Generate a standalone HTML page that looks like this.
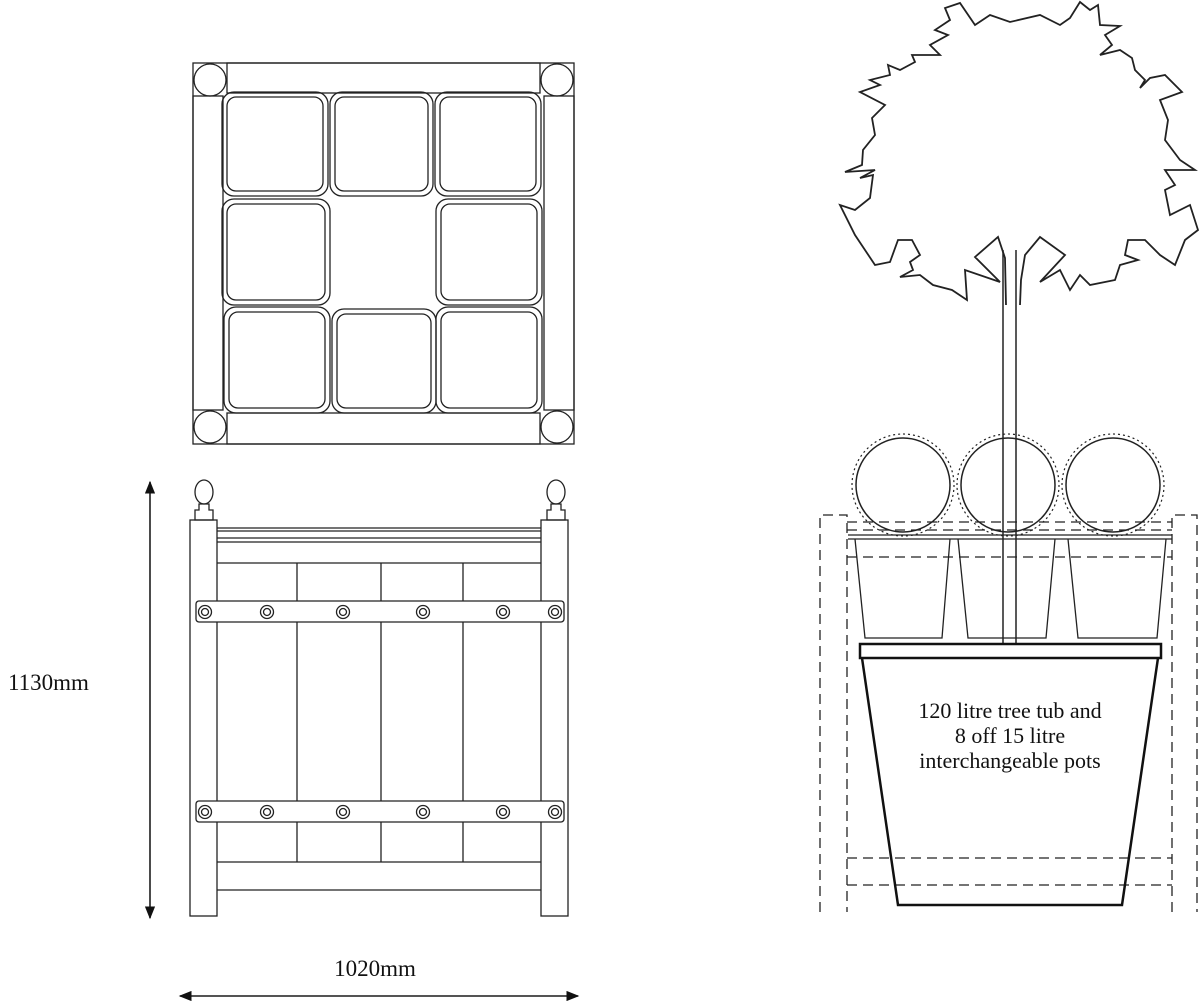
<!DOCTYPE html>
<html><head><meta charset="utf-8"><style>
html,body{margin:0;padding:0;background:#fff;}
svg{display:block;}
text{font-family:"Liberation Serif",serif;fill:#111;}
</style></head><body>
<svg width="1200" height="1001" viewBox="0 0 1200 1001" xmlns="http://www.w3.org/2000/svg">
<defs>
<marker id="ar" markerWidth="10" markerHeight="8" refX="9" refY="4" orient="auto"><path d="M0,0 L10,4 L0,8 z" fill="#111"/></marker>
</defs>
<g fill="none" stroke="#222" stroke-width="1.3">
<!-- TOP VIEW -->
<rect x="193" y="63" width="381" height="381"/>
<rect x="227" y="63" width="313" height="30"/>
<rect x="227" y="413" width="313" height="31"/>
<rect x="193" y="96" width="30" height="314"/>
<rect x="544" y="96" width="30" height="314"/>
<circle cx="210" cy="80" r="16"/><circle cx="557" cy="80" r="16"/>
<circle cx="210" cy="427" r="16"/><circle cx="557" cy="427" r="16"/>
<g>
<rect x="222" y="92" width="106" height="104" rx="12"/><rect x="227" y="97" width="96" height="94" rx="9"/>
<rect x="330" y="92" width="103" height="104" rx="12"/><rect x="335" y="97" width="93" height="94" rx="9"/>
<rect x="435" y="92" width="106" height="104" rx="12"/><rect x="440" y="97" width="96" height="94" rx="9"/>
<rect x="222" y="199" width="108" height="106" rx="12"/><rect x="227" y="204" width="98" height="96" rx="9"/>
<rect x="436" y="199" width="106" height="106" rx="12"/><rect x="441" y="204" width="96" height="96" rx="9"/>
<rect x="224" y="307" width="106" height="106" rx="12"/><rect x="229" y="312" width="96" height="96" rx="9"/>
<rect x="332" y="309" width="104" height="104" rx="12"/><rect x="337" y="314" width="94" height="94" rx="9"/>
<rect x="436" y="307" width="106" height="106" rx="12"/><rect x="441" y="312" width="96" height="96" rx="9"/>
</g>
<!-- FRONT VIEW -->
<rect x="190" y="520" width="27" height="396"/>
<rect x="541" y="520" width="27" height="396"/>
<ellipse cx="204" cy="492" rx="9" ry="12"/><ellipse cx="556" cy="492" rx="9" ry="12"/>
<path d="M199,504 h10 v6 h4 v10 h-18 v-10 h4z"/><path d="M551,504 h10 v6 h4 v10 h-18 v-10 h4z"/>
<line x1="217" y1="528" x2="541" y2="528"/><line x1="217" y1="531" x2="541" y2="531"/>
<line x1="217" y1="538" x2="541" y2="538"/><line x1="217" y1="542" x2="541" y2="542"/>
<line x1="217" y1="563" x2="541" y2="563"/>
<line x1="297" y1="563" x2="297" y2="862"/><line x1="381" y1="563" x2="381" y2="862"/><line x1="463" y1="563" x2="463" y2="862"/>
<line x1="217" y1="862" x2="541" y2="862"/><line x1="217" y1="890" x2="541" y2="890"/>
<rect x="196" y="601" width="368" height="21" rx="3" fill="#fff"/>
<rect x="196" y="801" width="368" height="21" rx="3" fill="#fff"/>
<g>
<circle cx="205" cy="612" r="6.5"/><circle cx="205" cy="612" r="3.5"/>
<circle cx="267" cy="612" r="6.5"/><circle cx="267" cy="612" r="3.5"/>
<circle cx="343" cy="612" r="6.5"/><circle cx="343" cy="612" r="3.5"/>
<circle cx="423" cy="612" r="6.5"/><circle cx="423" cy="612" r="3.5"/>
<circle cx="503" cy="612" r="6.5"/><circle cx="503" cy="612" r="3.5"/>
<circle cx="555" cy="612" r="6.5"/><circle cx="555" cy="612" r="3.5"/>
<circle cx="205" cy="812" r="6.5"/><circle cx="205" cy="812" r="3.5"/>
<circle cx="267" cy="812" r="6.5"/><circle cx="267" cy="812" r="3.5"/>
<circle cx="343" cy="812" r="6.5"/><circle cx="343" cy="812" r="3.5"/>
<circle cx="423" cy="812" r="6.5"/><circle cx="423" cy="812" r="3.5"/>
<circle cx="503" cy="812" r="6.5"/><circle cx="503" cy="812" r="3.5"/>
<circle cx="555" cy="812" r="6.5"/><circle cx="555" cy="812" r="3.5"/>
</g>
<!-- dimensions -->
<line x1="150" y1="918" x2="150" y2="482" marker-end="url(#ar)" stroke="#111"/>
<line x1="150" y1="482" x2="150" y2="918" marker-end="url(#ar)" stroke="#111"/>
<line x1="180" y1="996" x2="578" y2="996" marker-end="url(#ar)" stroke="#111"/>
<line x1="578" y1="996" x2="180" y2="996" marker-end="url(#ar)" stroke="#111"/>

<!-- RIGHT ELEVATION -->
<g stroke-dasharray="10,6">
<path d="M820,912 V515 H847 V912"/>
<path d="M1172,912 V515 H1197 V912"/>
<line x1="847" y1="522" x2="1172" y2="522"/><line x1="847" y1="530" x2="1172" y2="530"/>
<line x1="847" y1="557" x2="1172" y2="557"/>
<line x1="847" y1="858" x2="1172" y2="858"/><line x1="847" y1="885" x2="1172" y2="885"/>
</g>
<line x1="848" y1="535" x2="1172" y2="535"/><line x1="848" y1="539" x2="1172" y2="539"/>
<path d="M855,539 L865,638 H942 L950,539"/>
<path d="M958,539 L968,638 H1046 L1055,539"/>
<path d="M1068,539 L1078,638 H1157 L1166,539"/>
<g stroke-width="1.5">
<circle cx="903" cy="485" r="47"/>
<circle cx="1008" cy="485" r="47"/>
<circle cx="1113" cy="485" r="47"/>
</g>
<g stroke-width="1.2" stroke-dasharray="2,3">
<circle cx="903" cy="485" r="51"/>
<circle cx="1008" cy="485" r="51"/>
<circle cx="1113" cy="485" r="51"/>
</g>
<path stroke-width="1.8" fill="#fff" d="M1006,305 L1005,258 L998,237 L975,257 L1000,282 L965,270 L967,300 L952,290 L933,285 L920,275 L900,277 L913,270 L910,262 L920,255 L912,240 L898,240 L890,262 L875,265 L855,235 L840,205 L855,210 L870,198 L873,175 L860,178 L875,170 L845,172 L862,165 L863,150 L875,135 L872,118 L885,105 L860,92 L880,85 L870,80 L890,75 L888,65 L900,70 L915,62 L912,55 L940,55 L930,45 L948,35 L935,30 L950,20 L945,8 L960,3 L975,25 L990,15 L1010,22 L1040,15 L1060,25 L1070,18 L1080,2 L1090,10 L1098,5 L1100,25 L1120,26 L1105,35 L1112,45 L1100,55 L1120,50 L1132,58 L1135,70 L1145,80 L1140,88 L1150,78 L1165,75 L1182,92 L1160,100 L1168,120 L1165,140 L1180,160 L1195,170 L1165,170 L1175,185 L1165,190 L1170,215 L1190,205 L1198,230 L1185,240 L1175,265 L1160,255 L1145,240 L1128,240 L1125,255 L1138,260 L1120,265 L1115,280 L1090,285 L1080,275 L1070,290 L1060,270 L1040,282 L1065,255 L1040,237 L1025,255 L1021,280 L1020,305"/>
<line x1="1003" y1="250" x2="1003" y2="645" stroke-width="1.5"/><line x1="1016" y1="250" x2="1016" y2="645" stroke-width="1.5"/>
<g stroke-width="2.5" stroke="#111">
<rect x="860" y="644" width="301" height="14"/>
<path d="M862,658 L898,905 H1122 L1158,658"/>
</g>
</g>
<text x="8" y="690" font-size="23">1130mm</text>
<text x="375" y="976" font-size="23" text-anchor="middle">1020mm</text>
<g font-size="22" text-anchor="middle">
<text x="1010" y="718">120 litre tree tub and</text>
<text x="1010" y="743">8 off 15 litre</text>
<text x="1010" y="768">interchangeable pots</text>
</g>
</svg>
</body></html>
